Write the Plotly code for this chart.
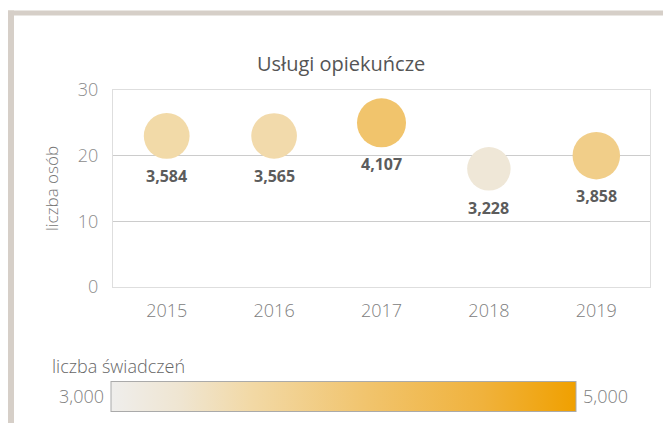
import math
import plotly.graph_objects as go

# ---- data ----
years = ["2015", "2016", "2017", "2018", "2019"]
liczba_osob = [23, 23, 25, 18, 20]
liczba_swiadczen = [3584, 3565, 4107, 3228, 3858]
y_ticks = [0, 10, 20, 30]
color_min, color_max = 3000, 5000

title_text = "Usługi opiekuńcze"
y_title = "liczba osób"
legend_title = "liczba świadczeń"

W, H = 663, 423
ML, MR, MT, MB = 113, 13, 90, 135
PW, PH = W - ML - MR, H - MT - MB
SIZEREF = 3.418


def px_x(px):
    return (px - ML) / PW


def px_y(py):
    return (H - MB - py) / PH


FONT = "Open Sans"
colorscale = [
    [0.0, "#efeeec"],
    [0.15, "#efe5d1"],
    [0.3, "#f2d9a6"],
    [0.55, "#f1c46d"],
    [0.8, "#f0b23c"],
    [1.0, "#f0a000"],
]

fig = go.Figure()
fig.add_trace(go.Scatter(
    x=years,
    y=liczba_osob,
    mode="markers",
    marker=dict(
        size=liczba_swiadczen,
        sizemode="area",
        sizeref=SIZEREF,
        color=liczba_swiadczen,
        colorscale=colorscale,
        cmin=color_min,
        cmax=color_max,
        line=dict(width=0),
        opacity=1,
        showscale=True,
        colorbar=dict(
            orientation="h",
            xref="paper", yref="paper",
            x=px_x(343.5), xanchor="center",
            y=px_y(397), yanchor="middle",
            lenmode="pixels", len=465,
            thickness=30,
            xpad=0, ypad=0,
            outlinewidth=1, outlinecolor="#aaaaaa",
            showticklabels=False, ticks="",
        ),
    ),
    cliponaxis=False,
    hoverinfo="skip",
))

annotations = [
    dict(text=title_text, xref="paper", yref="paper",
         x=px_x(341), y=px_y(63), xanchor="center", yanchor="middle",
         showarrow=False, font=dict(family=FONT, size=20, color="#555555")),
    dict(text=legend_title, xref="paper", yref="paper",
         x=px_x(50), y=px_y(367), xanchor="left", yanchor="middle",
         showarrow=False, font=dict(family=FONT, size=18, color="#666666", weight=300)),
    dict(text=f"{color_min:,}", xref="paper", yref="paper",
         x=px_x(106), y=px_y(398), xanchor="right", yanchor="middle",
         showarrow=False, font=dict(family=FONT, size=18, color="#808080", weight=300)),
    dict(text=f"{color_max:,}", xref="paper", yref="paper",
         x=px_x(581), y=px_y(398), xanchor="left", yanchor="middle",
         showarrow=False, font=dict(family=FONT, size=18, color="#808080", weight=300)),
]

# value labels below each bubble (x given as category index)
for i, (yo, v) in enumerate(zip(liczba_osob, liczba_swiadczen)):
    radius = math.sqrt(v / (2 * SIZEREF))
    annotations.append(dict(
        text=f"{v:,}", x=i, y=yo, xref="x", yref="y",
        xanchor="center", yanchor="middle", showarrow=False,
        yshift=-(radius + 17),
        font=dict(family=FONT, size=16, color="#5c5c5c", weight="bold"),
    ))

fig.update_layout(
    width=W, height=H,
    margin=dict(l=ML, r=MR, t=MT, b=MB),
    paper_bgcolor="white",
    plot_bgcolor="white",
    showlegend=False,
    font=dict(family=FONT),
    xaxis=dict(
        type="category",
        range=[-0.5, 4.5],
        showgrid=False,
        showline=True, mirror=True, linecolor="#dedede", linewidth=1,
        ticks="",
        tickfont=dict(family=FONT, size=18, color="#808080", weight=300),
        ticklabelstandoff=7,
        zeroline=False,
    ),
    yaxis=dict(
        range=[0, 30],
        tickvals=y_ticks,
        showgrid=True, gridcolor="#cccccc", gridwidth=1,
        showline=True, mirror=True, linecolor="#dedede", linewidth=1,
        ticks="",
        tickfont=dict(family=FONT, size=18, color="#8c8c8c", weight=300),
        ticklabelstandoff=10,
        zeroline=False,
        title=dict(text=y_title, font=dict(family=FONT, size=17, color="#777777", weight=300), standoff=14),
    ),
    shapes=[
        dict(type="rect", xref="paper", yref="paper",
             x0=px_x(8), x1=px_x(W + 2), y0=px_y(15), y1=px_y(10),
             fillcolor="#d6cfc8", line=dict(width=0), layer="above"),
        dict(type="rect", xref="paper", yref="paper",
             x0=px_x(8), x1=px_x(14), y0=px_y(H + 2), y1=px_y(10),
             fillcolor="#d6cfc8", line=dict(width=0), layer="above"),
    ],
    annotations=annotations,
)

fig.write_html("out.html", config={"displayModeBar": False},
               post_script="document.body.style.margin='0';")
